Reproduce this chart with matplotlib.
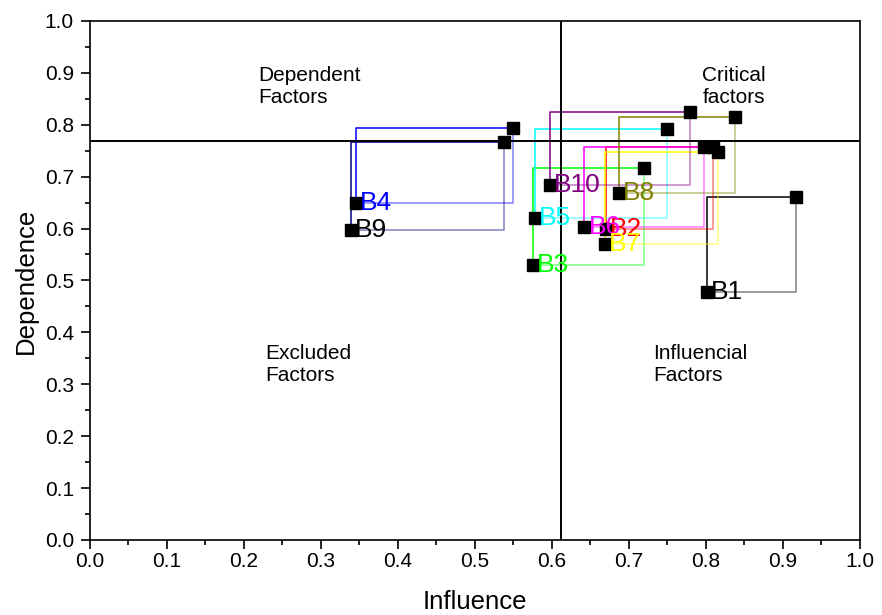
import matplotlib
matplotlib.use('Agg')
import matplotlib.pyplot as plt
from matplotlib.ticker import MultipleLocator

plt.rcParams['font.family'] = ['Liberation Sans', 'DejaVu Sans']

# factor names and the two corners of each box
names = ['B1', 'B2', 'B3', 'B4', 'B5', 'B6', 'B7', 'B8', 'B9', 'B10']
x1 = [0.801, 0.670, 0.575, 0.345, 0.578, 0.642, 0.669, 0.687, 0.339, 0.597]
y1 = [0.478, 0.599, 0.530, 0.649, 0.621, 0.603, 0.570, 0.669, 0.597, 0.684]
x2 = [0.917, 0.809, 0.719, 0.549, 0.749, 0.797, 0.815, 0.838, 0.538, 0.779]
y2 = [0.661, 0.758, 0.717, 0.794, 0.792, 0.758, 0.747, 0.814, 0.766, 0.825]

line_colors = ['black', 'red', '#00ff00', 'blue', 'cyan', 'magenta', 'yellow',
               '#808000', '#000080', '#800080']
label_colors = ['black', 'red', '#00ff00', 'blue', 'cyan', 'magenta', 'yellow',
                '#808000', 'black', '#800080']

# quadrant thresholds
x_cut = 0.612
y_cut = 0.768

fig = plt.figure(figsize=(8.82, 6.15), dpi=100)
ax = fig.add_axes([0.102, 0.122, 0.873, 0.844])

for i in range(len(names)):
    c = line_colors[i]
    # dark half of the box
    ax.plot([x1[i], x1[i], x2[i]], [y1[i], y2[i], y2[i]], color=c, lw=1.1, zorder=2)
    # lighter half of the box
    ax.plot([x1[i], x2[i], x2[i]], [y1[i], y1[i], y2[i]], color=c, lw=1.1, alpha=0.5, zorder=2)
    ax.plot([x1[i], x2[i]], [y1[i], y2[i]], ls='none', marker='s', ms=8,
            color='black', zorder=4)
    ax.annotate(names[i], (x1[i], y1[i]), xytext=(3, 0), textcoords='offset points',
                ha='left', va='center', fontsize=19, color=label_colors[i], zorder=5)

ax.axhline(y_cut, color='black', lw=1.4, zorder=3)
ax.axvline(x_cut, color='black', lw=1.4, zorder=3)

ax.text(0.218, 0.913, 'Dependent\nFactors', ha='left', va='top', fontsize=15)
ax.text(0.836, 0.913, 'Critical\nfactors', ha='center', va='top', fontsize=15,
        multialignment='center')
ax.text(0.227, 0.378, 'Excluded\nFactors', ha='left', va='top', fontsize=15)
ax.text(0.731, 0.378, 'Influencial\nFactors', ha='left', va='top', fontsize=15)

ax.set_xlim(0, 1)
ax.set_ylim(0, 1)
ax.xaxis.set_major_locator(MultipleLocator(0.1))
ax.xaxis.set_minor_locator(MultipleLocator(0.05))
ax.yaxis.set_major_locator(MultipleLocator(0.1))
ax.yaxis.set_minor_locator(MultipleLocator(0.05))
ax.xaxis.set_major_formatter(lambda v, p: f'{v:.1f}')
ax.yaxis.set_major_formatter(lambda v, p: f'{v:.1f}')
ax.tick_params(which='both', direction='out', top=False, right=False,
               labelsize=15, width=1.2)
ax.tick_params(which='major', length=6.5)
ax.tick_params(which='minor', length=3.5)
ax.tick_params(axis='x', which='major', pad=2)
ax.tick_params(axis='y', which='major', pad=5)
for s in ax.spines.values():
    s.set_linewidth(1.2)

ax.set_xlabel('Influence', fontsize=18.5, labelpad=14)
ax.set_ylabel('Dependence', fontsize=18.5, labelpad=5)

fig.savefig('out.png', dpi=100)
